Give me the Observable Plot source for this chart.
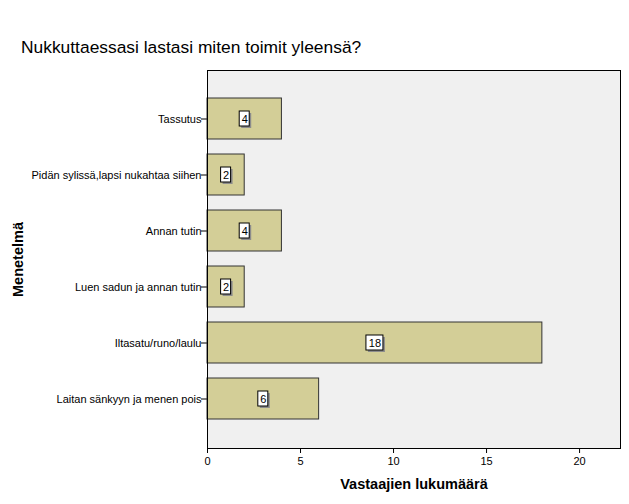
<!DOCTYPE html>
<html>
<head>
<meta charset="utf-8">
<script src="https://cdn.jsdelivr.net/npm/d3@7"></script>
<script src="https://cdn.jsdelivr.net/npm/@observablehq/plot@0.6"></script>
<style>
  html, body { margin: 0; padding: 0; background: #fff; }
  #title { height: 60px; box-sizing: border-box; padding: 38px 0 0 21px; font: 17.4px "Liberation Sans", Arial, sans-serif; line-height: 18px; color: #000; white-space: nowrap; }
</style>
</head>
<body>
<div id="title">Nukkuttaessasi lastasi miten toimit yleensä?</div>
<div id="chart"></div>
<script>
const categories = [
  "Tassutus",
  "Pidän sylissä,lapsi nukahtaa siihen",
  "Annan tutin",
  "Luen sadun ja annan tutin",
  "Iltasatu/runo/laulu",
  "Laitan sänkyyn ja menen pois"
];
const counts = [4, 2, 4, 2, 18, 6];
const xTicks = [0, 5, 10, 15, 20];
const xLabel = "Vastaajien lukumäärä";
const yLabel = "Menetelmä";

const data = categories.map((c, i) => ({category: c, count: counts[i], mid: counts[i] / 2, digits: String(counts[i]).length}));
const one = data.filter(d => d.digits === 1);
const two = data.filter(d => d.digits === 2);

const boxOpts = (w) => ({x1: "mid", x2: "mid", y: "category", insetLeft: -w, insetRight: -w, insetTop: 13, insetBottom: 13});

const chart = Plot.plot({
  width: 629,
  height: 444,
  marginTop: 10,
  marginBottom: 56,
  marginLeft: 207,
  marginRight: 9,
  style: {fontFamily: "'Liberation Sans', Arial, sans-serif", fontSize: "11px", color: "#000", background: "#fff"},
  x: {domain: [0, 22.2], ticks: xTicks, tickSize: 5, tickPadding: 4, label: null},
  y: {domain: categories, paddingInner: 0.26, paddingOuter: 0.45, tickSize: 6, tickPadding: 0, label: null},
  marks: [
    Plot.frame({fill: "#f0f0f0", stroke: "none"}),
    Plot.barX(data, {x: "count", y: "category", fill: "#d3ce97", stroke: "#333", strokeWidth: 1}),
    Plot.barX(one, {...boxOpts(5), fill: "#8c8c8c", dx: 2, dy: 2}),
    Plot.barX(one, {...boxOpts(5), fill: "#fff", stroke: "#000", strokeWidth: 1}),
    Plot.barX(two, {...boxOpts(8.5), fill: "#8c8c8c", dx: 2, dy: 2}),
    Plot.barX(two, {...boxOpts(8.5), fill: "#fff", stroke: "#000", strokeWidth: 1}),
    Plot.text(data, {x: "mid", y: "category", text: d => String(d.count), fontSize: 11, fill: "#000"}),
    Plot.frame({stroke: "#000", strokeWidth: 1}),
    Plot.text([xLabel], {frameAnchor: "bottom", dy: 40, fontSize: 14.5, fontWeight: "bold", fill: "#000"}),
    Plot.text([yLabel], {frameAnchor: "left", dx: -189, rotate: -90, textAnchor: "middle", fontSize: 14.5, fontWeight: "bold", fill: "#000"})
  ]
});
document.getElementById("chart").appendChild(chart);
</script>
</body>
</html>
